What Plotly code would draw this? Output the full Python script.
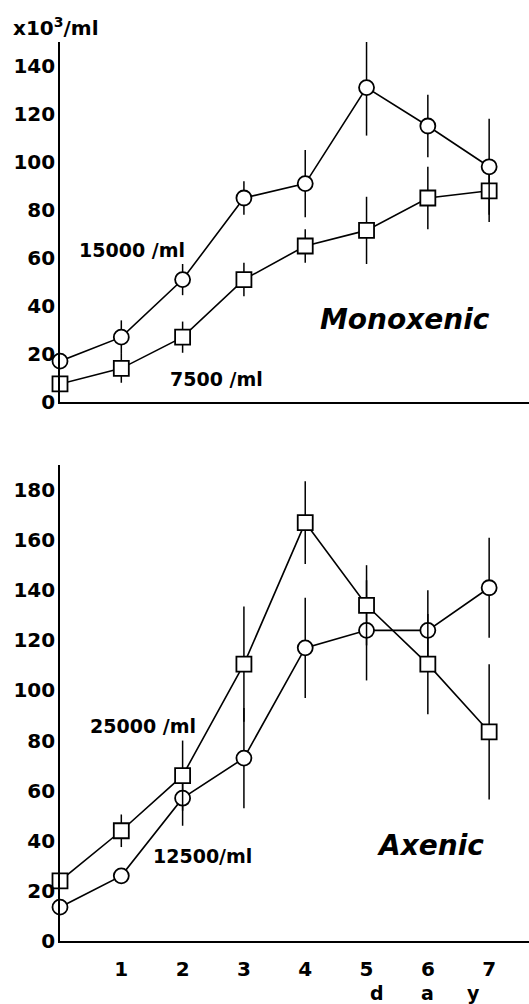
import plotly.graph_objects as go

days = [0, 1, 2, 3, 4, 5, 6, 7]
day_ticks = [1, 2, 3, 4, 5, 6, 7]

# Monoxenic panel (x10^3 /ml)
mono_15000 = [17, 27, 51, 85, 91, 131, 115, 98]
mono_15000_err = [0, 7, 6.5, 7, 14, 20, 13, 20]
mono_7500 = [7.5, 14, 27, 51, 65, 71.5, 85, 88]
mono_7500_err = [0, 6, 6.5, 7, 7, 14, 13, 13]

# Axenic panel (x10^3 /ml)
axen_25000 = [24, 44, 66, 110.5, 167, 134, 110.5, 83.5]
axen_25000_err = [0, 6.5, 14, 23, 16.5, 16, 20, 27]
axen_12500 = [13.5, 26, 57, 73, 117, 124, 124, 141]
axen_12500_err = [0, 0, 11, 20, 20, 20, 16, 20]

FONT = "DejaVu Sans"
fig = go.Figure()


def add_series(y, err, symbol, size, xa, ya):
    fig.add_trace(go.Scatter(
        x=days, y=y, xaxis=xa, yaxis=ya, mode="lines+markers",
        line=dict(color="black", width=1.6),
        marker=dict(symbol=symbol, size=size, color="white",
                    line=dict(color="black", width=1.8)),
        error_y=dict(type="data", array=err, symmetric=True,
                     color="black", thickness=1.5, width=0),
        cliponaxis=False, showlegend=False, hoverinfo="skip",
    ))


add_series(mono_7500, mono_7500_err, "square", 15, "x", "y")
add_series(mono_15000, mono_15000_err, "circle", 15, "x", "y")
add_series(axen_12500, axen_12500_err, "circle", 15, "x2", "y2")
add_series(axen_25000, axen_25000_err, "square", 15, "x2", "y2")

tickfont = dict(family=FONT, size=20, color="black", weight="bold")

fig.update_layout(
    width=529, height=1004,
    margin=dict(l=60, r=0, t=42, b=63, autoexpand=False),
    paper_bgcolor="white", plot_bgcolor="white",
    xaxis=dict(domain=[0, 1], anchor="y", range=[0, 7.65],
               showline=True, linecolor="black", linewidth=2,
               showgrid=False, zeroline=False, showticklabels=False, ticks=""),
    yaxis=dict(domain=[0.5996, 1], anchor="x", range=[0, 150],
               showline=True, linecolor="black", linewidth=1.6,
               showgrid=False, zeroline=False, ticks="",
               tickvals=[0, 20, 40, 60, 80, 100, 120, 140],
               tickfont=tickfont, ticklabelstandoff=-1),
    xaxis2=dict(domain=[0, 1], anchor="y2", range=[0, 7.65],
                showline=True, linecolor="black", linewidth=2,
                showgrid=False, zeroline=False, ticks="",
                tickvals=day_ticks, tickfont=tickfont, ticklabelstandoff=9),
    yaxis2=dict(domain=[0, 0.5295], anchor="x2", range=[0, 190],
                showline=True, linecolor="black", linewidth=1.6,
                showgrid=False, zeroline=False, ticks="",
                tickvals=[0, 20, 40, 60, 80, 100, 120, 140, 160, 180],
                tickfont=tickfont, ticklabelstandoff=-1),
)

lab = dict(family=FONT, size=19, color="black", weight="bold")
big = dict(family=FONT, size=28, color="black", weight="bold", style="italic")

annots = [
    dict(text="15000 /ml", x=1.17, y=63.5, xref="x", yref="y", font=lab),
    dict(text="7500 /ml", x=2.55, y=9.5, xref="x", yref="y", font=lab),
    dict(text="Monoxenic", x=5.63, y=34.4, xref="x", yref="y", font=big),
    dict(text="25000 /ml", x=1.35, y=86, xref="x2", yref="y2", font=lab),
    dict(text="12500/ml", x=2.32, y=34, xref="x2", yref="y2", font=lab),
    dict(text="Axenic", x=6.04, y=38, xref="x2", yref="y2", font=big),
    dict(text="x10<sup>3</sup>/ml", x=-0.104, y=1.0167, xref="paper", yref="paper",
         xanchor="left", font=dict(family=FONT, size=20, color="black", weight="bold")),
    dict(text="d", x=5.17, y=-0.0575, xref="x2", yref="paper", font=lab),
    dict(text="a", x=5.99, y=-0.0575, xref="x2", yref="paper", font=lab),
    dict(text="y", x=6.74, y=-0.0575, xref="x2", yref="paper", font=lab),
]
for a in annots:
    a.setdefault("xanchor", "center")
    a["yanchor"] = "middle"
    a["showarrow"] = False
    fig.add_annotation(**a)

fig.write_html(
    "out.html",
    config={"displayModeBar": False},
    post_script="document.body.style.margin='0';document.body.style.overflow='hidden';",
)
